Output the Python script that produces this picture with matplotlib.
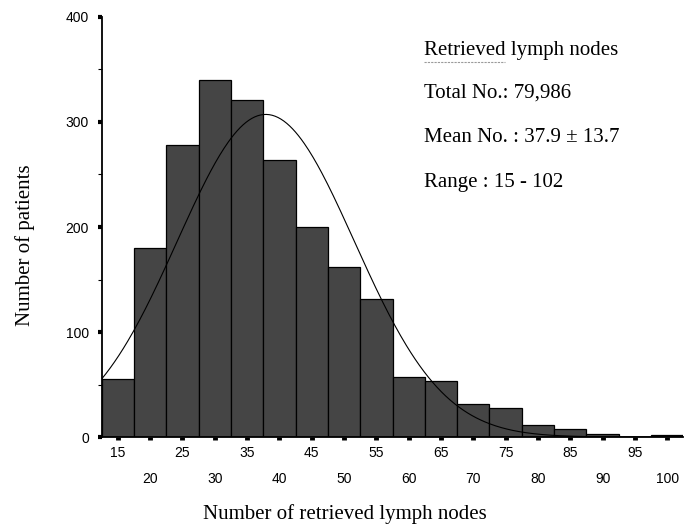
import numpy as np
import matplotlib
matplotlib.use("Agg")
import matplotlib.pyplot as plt

# ---- data ----
bin_mids = [15, 20, 25, 30, 35, 40, 45, 50, 55, 60, 65, 70, 75, 80, 85, 90, 95, 100]
counts = [55, 180, 278, 340, 321, 264, 200, 162, 131, 57, 53, 31, 28, 11, 8, 3, 0, 2]
bin_width = 5
total_nodes = 79986
mean_nodes = 37.9
sd_nodes = 13.7
range_min, range_max = 15, 102
y_ticks = [0, 100, 200, 300, 400]
x_ticks_row1 = [15, 25, 35, 45, 55, 65, 75, 85, 95]
x_ticks_row2 = [20, 30, 40, 50, 60, 70, 80, 90, 100]

serif = ["Liberation Serif", "DejaVu Serif"]
sans = ["Liberation Sans", "DejaVu Sans"]

W, H = 692, 531
fig = plt.figure(figsize=(W / 100, H / 100), dpi=100)
ax = fig.add_axes([0.1467, 0.177, 0.8410, 0.791])

ax.bar(bin_mids, counts, width=bin_width, color="#454545",
       edgecolor="black", linewidth=0.9, zorder=2)

# fitted normal curve (from stated mean / SD / number of patients)
n_patients = round(total_nodes / mean_nodes)
xs = np.linspace(12.5, 102.5, 400)
ys = n_patients * bin_width * np.exp(-0.5 * ((xs - mean_nodes) / sd_nodes) ** 2) / (sd_nodes * np.sqrt(2 * np.pi))
ax.plot(xs, ys, color="black", linewidth=0.8, zorder=3)

ax.set_xlim(12.5, 102.5)
ax.set_ylim(0, 400)

for s in ["top", "right"]:
    ax.spines[s].set_visible(False)
ax.spines["left"].set_linewidth(1.3)
ax.spines["bottom"].set_linewidth(1.3)

ax.set_yticks(y_ticks)
ax.set_yticks([50, 150, 250, 350], minor=True)
ax.tick_params(axis="y", which="major", direction="out", length=3, width=3, pad=6,
               labelsize=10)
ax.tick_params(axis="y", which="minor", direction="out", length=3, width=0.8)

ax.set_xticks(x_ticks_row1)
ax.set_xticks(x_ticks_row2, minor=True)
ax.set_xticklabels([str(v) for v in x_ticks_row1])
ax.set_xticklabels([str(v) for v in x_ticks_row2], minor=True)
ax.tick_params(axis="x", which="major", direction="out", length=2.5, width=3.5, pad=4,
               labelsize=10)
ax.tick_params(axis="x", which="minor", direction="out", length=2.5, width=3.5, pad=23,
               labelsize=10)
for lab in ax.get_xticklabels(which="both") + ax.get_yticklabels():
    lab.set_fontfamily(sans)

# axis titles
fig.text(25 / W, 1 - 245 / H, "Number of patients", rotation=90, fontsize=15,
         family=serif, ha="center", va="center")
fig.text(345 / W, 1 - 514 / H, "Number of retrieved lymph nodes", fontsize=15,
         family=serif, ha="center", va="center")

lines = ["Retrieved lymph nodes",
         f"Total No.: {total_nodes:,}",
         f"Mean No. : {mean_nodes} \u00b1 {sd_nodes}",
         f"Range : {range_min} - {range_max}"]
y_px = [50, 93, 137, 182]
for t, yp in zip(lines, y_px):
    fig.text(424 / W, 1 - yp / H, t, fontsize=15, family=serif,
             ha="left", va="center")
# faint underline under the heading
fig.lines.append(plt.Line2D([424 / W, 505 / W], [1 - 62 / H, 1 - 62 / H],
                            transform=fig.transFigure, color="#9a9a9a",
                            linewidth=0.8, linestyle=(0, (2, 1))))

fig.savefig("out.png", dpi=100)
